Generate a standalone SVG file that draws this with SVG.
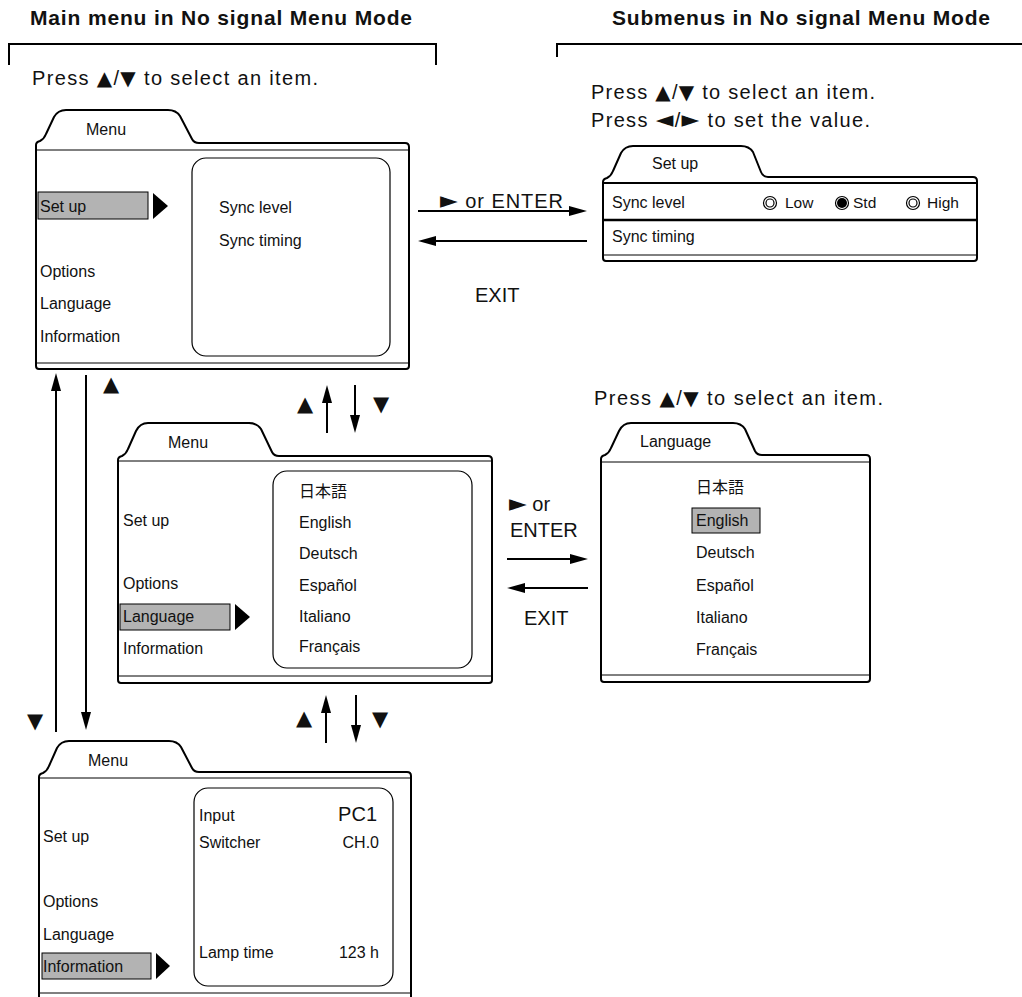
<svg xmlns="http://www.w3.org/2000/svg" width="1022" height="997" viewBox="0 0 1022 997">
<defs>
<style>
text{font-family:"Liberation Sans",Arial,"Noto Sans CJK JP",sans-serif;fill:#111}
.hdr{font-size:21px;font-weight:bold}
.ins{font-size:20px}
.big{font-size:20px}
.m{font-size:16px}
.r{font-size:15.5px}
.sym{font-family:"DejaVu Sans",sans-serif;font-size:20px}
.ptrs{font-family:"DejaVu Sans",sans-serif;font-size:23px}
.jp{font-family:"Noto Sans CJK JP","Liberation Sans",sans-serif;font-size:16px}
.key{font-family:"DejaVu Sans",sans-serif;font-size:21px;text-anchor:middle}
.folder{fill:#fff;stroke:#000;stroke-width:2;stroke-linejoin:round}
.thin{stroke:#000;stroke-width:1;fill:none}
.sep{stroke:#000;stroke-width:2.5;fill:none}
.inner{fill:none;stroke:#000;stroke-width:1.2}
.hl{fill:#b3b3b3;stroke:#000;stroke-width:1}
.ptr{fill:#000}
.br{fill:none;stroke:#000;stroke-width:2}
.con{stroke:#000;stroke-width:2;fill:none;marker-end:url(#ah)}
</style>
<marker id="ah" markerUnits="userSpaceOnUse" markerWidth="20" markerHeight="12" refX="8" refY="5" orient="auto">
<path d="M0,0 L18,5 L0,10 Z" fill="#000"/>
</marker>
</defs>

<g id="headers">
<text class="hdr" x="30" y="25" textLength="382" lengthAdjust="spacing">Main menu in No signal Menu Mode</text>
<path class="br" d="M9,65 V44 H436 V65"/>
<text class="hdr" x="612" y="25" textLength="378" lengthAdjust="spacing">Submenus in No signal Menu Mode</text>
<path class="br" d="M557,57 V44 H1022"/>
<text class="ins" x="32" y="85" textLength="286" lengthAdjust="spacing">Press <tspan class="sym">▲</tspan>/<tspan class="sym">▼</tspan> to select an item.</text>
<text class="ins" x="591" y="99" textLength="284" lengthAdjust="spacing">Press <tspan class="sym">▲</tspan>/<tspan class="sym">▼</tspan> to select an item.</text>
<text class="ins" x="591" y="127" textLength="279" lengthAdjust="spacing">Press <tspan class="ptrs">◄</tspan>/<tspan class="ptrs">►</tspan> to set the value.</text>
<text class="ins" x="594" y="405" textLength="289" lengthAdjust="spacing">Press <tspan class="sym">▲</tspan>/<tspan class="sym">▼</tspan> to select an item.</text>
</g>

<g id="menu-setup">
<path class="folder" d="M36,366 V145 Q36,142 40,141 Q44,139 46,134 L54,117 Q58,110 66,110 H168 Q176,110 180,116 L192,139 Q194,143 199,143 H405 Q409,143 409,147 V366 Q409,369 406,369 H39 Q36,369 36,366 Z"/>
<path class="thin" d="M36,150 H409 M36,363 H409"/>
<text class="m" x="86" y="135">Menu</text>
<rect class="inner" x="192" y="158" width="198" height="198" rx="14"/>
<rect class="hl" x="38" y="192" width="110" height="27"/>
<polygon class="ptr" points="153,193 168,206 153,219"/>
<text class="m" x="40" y="212">Set up</text>
<text class="m" x="40" y="277">Options</text>
<text class="m" x="40" y="309">Language</text>
<text class="m" x="40" y="342">Information</text>
<text class="m" x="219" y="213">Sync level</text>
<text class="m" x="219" y="246">Sync timing</text>
</g>

<g id="submenu-setup">
<path class="folder" d="M603,258 V182 Q603,179 607,178 Q611,176 613,171 L621,153 Q625,146 633,146 H741 Q749,146 753,152 L761,172 Q763,177 768,177 H973 Q977,177 977,181 V258 Q977,261 974,261 H606 Q603,261 603,258 Z"/>
<path class="br" d="M603,183 H977"/>
<path class="sep" d="M603,220 H977"/>
<path class="thin" d="M603,255 H977"/>
<text class="m" x="652" y="169">Set up</text>
<text class="m" x="612" y="208">Sync level</text>
<text class="m" x="612" y="242">Sync timing</text>
<circle cx="770" cy="203" r="6.5" fill="#fff" stroke="#000" stroke-width="1.2"/>
<circle cx="770" cy="203" r="4" fill="none" stroke="#000" stroke-width="1.2"/>
<text class="r" x="785" y="208">Low</text>
<circle cx="842" cy="203" r="6.5" fill="#fff" stroke="#000" stroke-width="1.2"/>
<circle cx="842" cy="203" r="5" fill="#000"/>
<text class="r" x="853" y="208">Std</text>
<circle cx="913" cy="203" r="6.5" fill="#fff" stroke="#000" stroke-width="1.2"/>
<circle cx="913" cy="203" r="4" fill="none" stroke="#000" stroke-width="1.2"/>
<text class="r" x="927" y="208">High</text>
</g>

<g id="menu-language">
<path class="folder" d="M118,680 V460 Q118,457 122,456 Q126,454 128,449 L136,431 Q140,423 148,423 H249 Q257,423 261,429 L272,452 Q274,456 279,456 H488 Q492,456 492,460 V680 Q492,683 489,683 H121 Q118,683 118,680 Z"/>
<path class="thin" d="M118,461 H492 M118,676 H492"/>
<text class="m" x="168" y="448">Menu</text>
<rect class="inner" x="273" y="471" width="199" height="197" rx="14"/>
<text class="m" x="123" y="526">Set up</text>
<text class="m" x="123" y="589">Options</text>
<rect class="hl" x="120" y="604" width="110" height="26"/>
<polygon class="ptr" points="235,604 250,617 235,630"/>
<text class="m" x="123" y="622">Language</text>
<text class="m" x="123" y="654">Information</text>
<text class="jp" x="299" y="497">日本語</text>
<text class="m" x="299" y="528">English</text>
<text class="m" x="299" y="559">Deutsch</text>
<text class="m" x="299" y="591">Español</text>
<text class="m" x="299" y="622">Italiano</text>
<text class="m" x="299" y="652">Français</text>
</g>

<g id="submenu-language">
<path class="folder" d="M601,679 V459 Q601,456 605,455 Q609,453 611,448 L619,431 Q623,423 631,423 H733 Q741,423 745,429 L755,451 Q757,455 762,455 H866 Q870,455 870,459 V679 Q870,682 867,682 H604 Q601,682 601,679 Z"/>
<path class="thin" d="M601,462 H870 M601,675 H870"/>
<text class="m" x="640" y="447">Language</text>
<text class="jp" x="696" y="493">日本語</text>
<rect class="hl" x="692" y="508" width="68" height="25"/>
<text class="m" x="696" y="526">English</text>
<text class="m" x="696" y="558">Deutsch</text>
<text class="m" x="696" y="591">Español</text>
<text class="m" x="696" y="623">Italiano</text>
<text class="m" x="696" y="655">Français</text>
</g>

<g id="menu-information">
<path class="folder" d="M39,1005 V777 Q39,774 43,773 Q47,771 49,766 L57,748 Q61,741 69,741 H169 Q177,741 181,747 L192,768 Q194,772 199,772 H407 Q411,772 411,776 V1005 Z"/>
<path class="thin" d="M39,778 H411 M39,993 H411"/>
<text class="m" x="88" y="766">Menu</text>
<rect class="inner" x="194" y="788" width="199" height="198" rx="14"/>
<text class="m" x="43" y="842">Set up</text>
<text class="m" x="43" y="907">Options</text>
<text class="m" x="43" y="940">Language</text>
<rect class="hl" x="42" y="953" width="109" height="26"/>
<polygon class="ptr" points="156,953 170,966 156,979"/>
<text class="m" x="43" y="972">Information</text>
<text class="m" x="199" y="821">Input</text>
<text class="big" x="377" y="821" text-anchor="end">PC1</text>
<text class="m" x="199" y="848">Switcher</text>
<text class="m" x="379" y="848" text-anchor="end">CH.0</text>
<text class="m" x="199" y="958">Lamp time</text>
<text class="m" x="379" y="958" text-anchor="end">123 h</text>
</g>

<g id="connectors">
<path class="con" d="M418,211 H577"/>
<path class="con" d="M587,241 H428"/>
<path class="con" d="M327,433 V395"/>
<path class="con" d="M355,385 V423"/>
<path class="con" d="M326,743 V705"/>
<path class="con" d="M356,695 V733"/>
<path class="con" d="M507,559 H578"/>
<path class="con" d="M588,588 H517"/>
<path class="con" d="M56,732 V383"/>
<path class="con" d="M86,375 V720"/>
<text class="big" x="440" y="208" textLength="123" lengthAdjust="spacing"><tspan class="ptrs">►</tspan> or ENTER</text>
<text class="big" x="475" y="302">EXIT</text>
<text class="big" x="509" y="511"><tspan class="ptrs">►</tspan> or</text>
<text class="big" x="510" y="537">ENTER</text>
<text class="big" x="524" y="625">EXIT</text>
<text class="key" x="305" y="411">▲</text>
<text class="key" x="381" y="411">▼</text>
<text class="key" x="304" y="725">▲</text>
<text class="key" x="380" y="726">▼</text>
<text class="key" x="111" y="391">▲</text>
<text class="key" x="35" y="728">▼</text>
</g>
</svg>
